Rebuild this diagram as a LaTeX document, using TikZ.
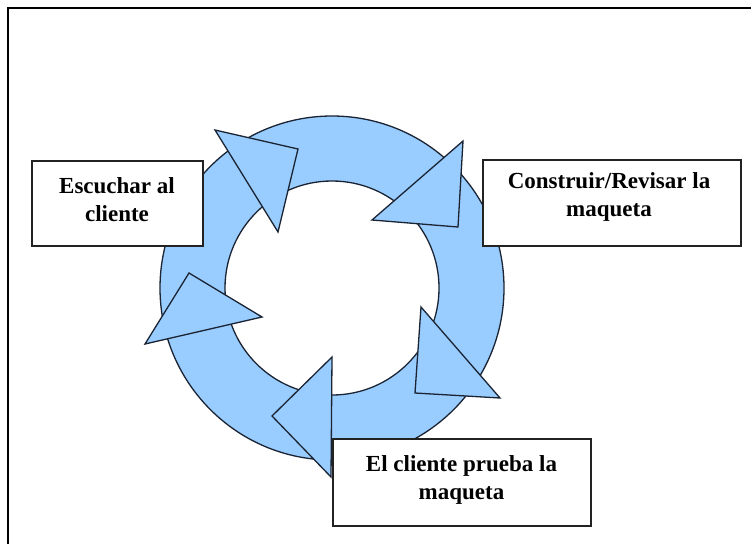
\documentclass[tikz,border=0pt]{standalone}
\usepackage{fontspec}
\setmainfont{Liberation Serif}
\definecolor{ringblue}{HTML}{99CCFF}
\definecolor{outline}{HTML}{1A2433}
\definecolor{boxline}{HTML}{222222}
\begin{document}
\begin{tikzpicture}[x=1pt,y=-1pt,
  ringpart/.style={fill=ringblue, draw=outline, line width=1.3pt},
  head/.style={fill=ringblue, draw=outline, line width=1.3pt, line join=miter},
  stepbox/.style={rectangle, draw=boxline, fill=white, line width=1.6pt, inner sep=0pt},
  caption/.style={font=\bfseries\fontsize{23}{28}\selectfont, align=center, inner sep=0pt}]
  \useasboundingbox (0,0) rectangle (751,544);
  \fill[white] (0,0) rectangle (751,544);
  % page frame (top and left edges)
  \draw[line width=2pt, black] (7.5,544) -- (7.5,7.5) -- (751,7.5);

  % cycle ring
  \coordinate (c) at (332,288);
  \draw[ringpart, even odd rule] (c) circle[radius=172] (c) circle[radius=107];

  % arrow heads along the ring
  \draw[head] (215,130) -- (298,149) -- (278,232) -- cycle;
  \draw[head] (463,141) -- (458,227) -- (372,220) -- cycle;
  \draw[head] (421,307) -- (415,393) -- (500,398) -- cycle;
  \draw[head] (332,357) -- (272,416) -- (331,477) -- cycle;
  \draw[head] (189,273) -- (262,317) -- (145,344) -- cycle;

  % step boxes
  \node[stepbox, minimum width=171pt, minimum height=85pt] (listen) at (117.5,203.5) {};
  \node[stepbox, minimum width=258pt, minimum height=86pt] (build) at (612,203) {};
  \node[stepbox, minimum width=258pt, minimum height=87pt] (test) at (462,482.5) {};

  \node[caption] (listentext) at (117,200) {Escuchar al\\cliente};
  \node[caption] (buildtext) at (609,197) {Construir/Revisar la\\maqueta};
  \node[caption] (testtext) at (461.5,480) {El cliente prueba la\\maqueta};
\end{tikzpicture}
\end{document}
